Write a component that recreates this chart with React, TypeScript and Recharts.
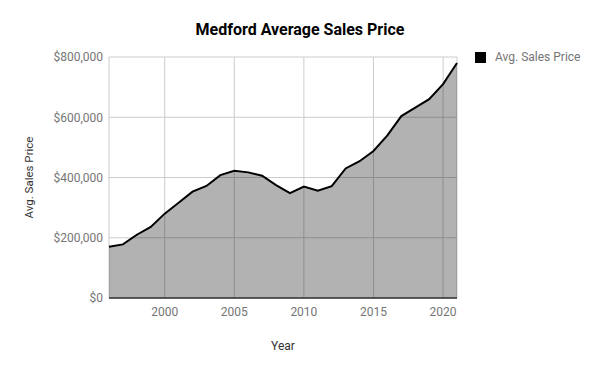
import React from 'react';
import { ComposedChart, Area, XAxis, YAxis, CartesianGrid, Label } from 'recharts';

const years = [1996, 1997, 1998, 1999, 2000, 2001, 2002, 2003, 2004, 2005, 2006, 2007, 2008, 2009, 2010, 2011, 2012, 2013, 2014, 2015, 2016, 2017, 2018, 2019, 2020, 2021];
const prices = [170000, 178000, 210000, 236000, 280000, 316000, 353000, 372000, 408000, 422000, 417000, 406000, 375000, 348000, 370000, 356000, 371000, 430000, 454000, 488000, 540000, 604000, 632000, 660000, 710000, 780000];
const xTicks = [2000, 2005, 2010, 2015, 2020];
const yTicks = [0, 200000, 400000, 600000, 800000];
const seriesName = 'Avg. Sales Price';

const data = years.map((y, i) => ({ year: y, price: prices[i] }));

const fmt = (v: number) => '$' + v.toLocaleString('en-US');

export default function App() {
  return (
    <div style={{ position: 'absolute', left: 0, top: 0, width: 600, height: 371, background: '#fff', fontFamily: 'Roboto' }}>
      <div style={{ position: 'absolute', top: 20, left: 0, width: 600, textAlign: 'center', fontWeight: 'bold', fontSize: 16, color: '#000' }}>
        Medford Average Sales Price
      </div>
      <div style={{ position: 'absolute', top: 50, left: 475, display: 'flex', alignItems: 'center', fontSize: 12, color: '#757575' }}>
        <span style={{ display: 'inline-block', width: 11, height: 11, background: '#000', marginRight: 9 }} />
        <span>{seriesName}</span>
      </div>
      <ComposedChart width={600} height={371} data={data} margin={{ top: 57, right: 143, bottom: 43, left: 0 }}>
        <CartesianGrid stroke="#cccccc" strokeDasharray="" />
        <XAxis
          dataKey="year"
          type="number"
          domain={[1996, 2021]}
          ticks={xTicks}
          height={30}
          tickLine={false}
          tickSize={0}
          tickMargin={9}
          axisLine={{ stroke: '#333', strokeWidth: 1.5 }}
          tick={{ fill: '#757575', fontSize: 12, fontFamily: 'Roboto' }}
        >
          <Label value="Year" position="bottom" offset={13} style={{ fill: '#333', fontSize: 12, fontFamily: 'Roboto' }} />
        </XAxis>
        <YAxis
          type="number"
          domain={[0, 800000]}
          ticks={yTicks}
          width={109}
          tickLine={false}
          axisLine={false}
          tickSize={0}
          tickMargin={6}
          tickFormatter={fmt}
          tick={{ fill: '#757575', fontSize: 12, fontFamily: 'Roboto' }}
        >
          <Label value={seriesName} angle={-90} position="insideLeft" offset={29} style={{ fill: '#333', fontSize: 11.5, fontFamily: 'Roboto', textAnchor: 'middle' }} />
        </YAxis>
        <Area
          type="linear"
          dataKey="price"
          name={seriesName}
          stroke="#000"
          strokeWidth={2}
          fill="#000"
          fillOpacity={0.3}
          isAnimationActive={false}
        />
      </ComposedChart>
    </div>
  );
}
